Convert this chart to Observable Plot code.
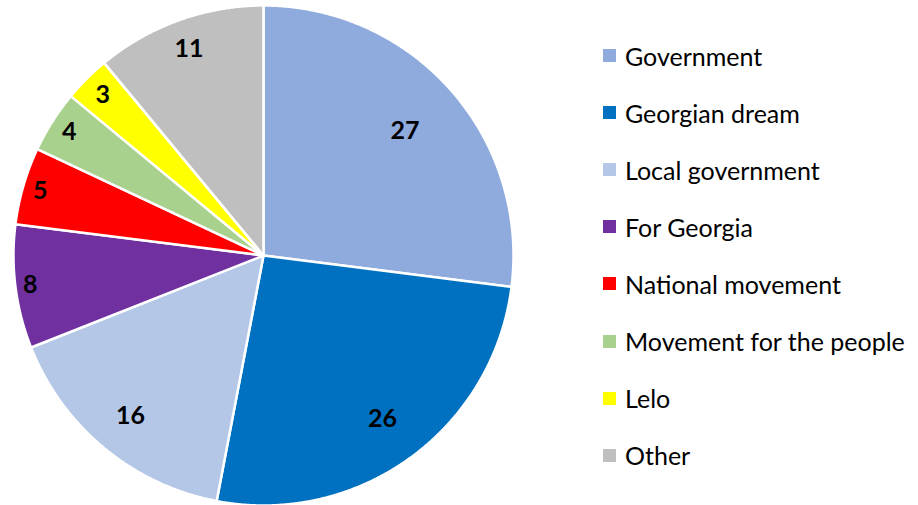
<!DOCTYPE html>
<html>
<head>
<meta charset="utf-8">
<script src="https://cdn.jsdelivr.net/npm/d3@7"></script>
<script src="https://cdn.jsdelivr.net/npm/@observablehq/plot@0.6"></script>
<style>
  html, body { margin: 0; padding: 0; background: #fff; }
  #wrap { position: relative; width: 918px; height: 505px; font-family: Lato, "Open Sans", sans-serif; }
  #legend { position: absolute; left: 603px; top: 27px; }
  .row { height: 57.1px; display: flex; align-items: center; font-size: 25px; color: #000; white-space: nowrap; }
  .sw { width: 13px; height: 13px; margin-right: 9px; flex: none; }
</style>
</head>
<body>
<div id="wrap"></div>
<script>
// ---- data ----
const categories = ["Government", "Georgian dream", "Local government", "For Georgia", "National movement", "Movement for the people", "Lelo", "Other"];
const values = [27, 26, 16, 8, 5, 4, 3, 11];
const colors = ["#8FAADC", "#0070C0", "#B4C7E7", "#7030A0", "#FF0000", "#A9D18E", "#FFFF00", "#BFBFBF"];

// ---- layout config (label distance from centre, as share of radius) ----
const labelRadius = [0.755, 0.81, 0.835, 0.94, 0.93, 0.92, 0.91, 0.88];

const W = 918, H = 505, cx = 263, cy = 255, R = 250;

const pie = d3.pie().sort(null).value(d => d.value);
const arcs = pie(categories.map((c, i) => ({cat: c, value: values[i]})));

// polygon points in unit-circle coordinates, angle clockwise from top
const pts = [];
arcs.forEach(a => {
  const cat = a.data.cat;
  pts.push({cat, u: 0, v: 0});
  const n = Math.max(2, Math.ceil((a.endAngle - a.startAngle) / 0.005));
  for (let k = 0; k <= n; k++) {
    const t = a.startAngle + (a.endAngle - a.startAngle) * k / n;
    pts.push({cat, u: Math.sin(t), v: Math.cos(t)});
  }
  pts.push({cat, u: 0, v: 0});
});

const labels = arcs.map((a, i) => {
  const m = (a.startAngle + a.endAngle) / 2;
  return {text: String(a.data.value), u: labelRadius[i] * Math.sin(m), v: labelRadius[i] * Math.cos(m)};
});

const chart = Plot.plot({
  width: W, height: H,
  marginTop: 0, marginRight: 0, marginBottom: 0, marginLeft: 0,
  style: {fontFamily: "Lato, 'Open Sans', sans-serif", background: "white"},
  x: {domain: [-cx / R, (W - cx) / R], axis: null},
  y: {domain: [-(H - cy) / R, cy / R], axis: null},
  color: {domain: categories, range: colors},
  marks: [
    Plot.line(pts, {x: "u", y: "v", z: "cat", fill: "cat", stroke: "white", strokeWidth: 2.5, strokeLinejoin: "round"}),
    Plot.text(labels, {x: "u", y: "v", text: "text", fontSize: 25, fontWeight: "bold", fill: "black"})
  ]
});
const wrap = document.getElementById("wrap");
wrap.appendChild(chart);

const legend = document.createElement("div");
legend.id = "legend";
categories.forEach((c, i) => {
  const row = document.createElement("div");
  row.className = "row";
  const sw = document.createElement("span");
  sw.className = "sw";
  sw.style.background = colors[i];
  const tx = document.createElement("span");
  tx.textContent = c;
  row.appendChild(sw); row.appendChild(tx);
  legend.appendChild(row);
});
wrap.appendChild(legend);
</script>
</body>
</html>
